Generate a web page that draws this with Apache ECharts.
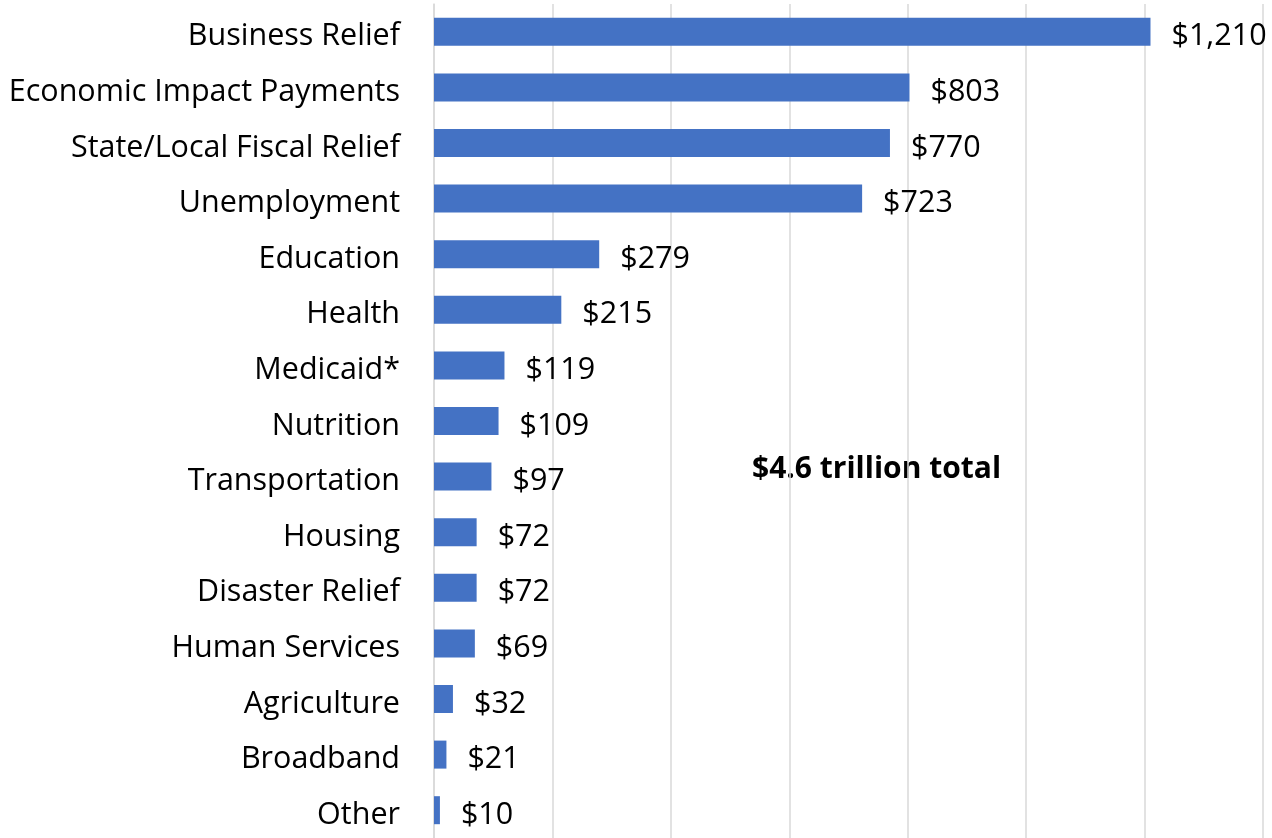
<!DOCTYPE html>
<html>
<head>
<meta charset="utf-8">
<script src="https://cdn.jsdelivr.net/npm/echarts@6/dist/echarts.min.js"></script>
<style>
  html, body { margin: 0; padding: 0; background: #ffffff; }
  #chart { width: 1272px; height: 838px; }
</style>
</head>
<body>
<div id="chart"></div>
<script>
// Spending by category, billions of dollars
const categories = [
  'Business Relief', 'Economic Impact Payments', 'State/Local Fiscal Relief',
  'Unemployment', 'Education', 'Health', 'Medicaid*', 'Nutrition',
  'Transportation', 'Housing', 'Disaster Relief', 'Human Services',
  'Agriculture', 'Broadband', 'Other'
];
const amounts = [1210, 803, 770, 723, 279, 215, 119, 109, 97, 72, 72, 69, 32, 21, 10];
const totalNote = '$4.6 trillion total';

const FONT = '"Open Sans"';
const labelText = {
  color: '#000000',
  fontFamily: FONT,
  fontSize: 30.5,
  padding: [10, 0, 0, 0]
};
const chart = echarts.init(document.getElementById('chart'), null, { renderer: 'canvas' });

chart.setOption({
  backgroundColor: '#ffffff',
  animation: false,
  grid: { left: 434, top: 4, width: 829, height: 837, containLabel: false },
  xAxis: {
    type: 'value',
    min: 0,
    max: 1400,
    interval: 200,
    axisLabel: { show: false },
    axisLine: { show: false },
    axisTick: { show: false },
    splitLine: { show: true, lineStyle: { color: '#d9d9d9', width: 1.5 } }
  },
  yAxis: {
    type: 'category',
    data: categories,
    inverse: true,
    axisLine: { show: true, lineStyle: { color: '#d9d9d9', width: 1.5 } },
    axisTick: { show: false },
    axisLabel: {
      margin: 34,
      formatter: v => '{t|' + v + '}',
      rich: { t: labelText }
    }
  },
  series: [{
    type: 'bar',
    data: amounts,
    barWidth: 28,
    itemStyle: { color: '#4472C4' },
    label: {
      show: true,
      position: 'right',
      distance: 21,
      formatter: p => '{t|$' + p.value.toLocaleString('en-US') + '}',
      rich: { t: labelText }
    }
  }],
  graphic: [{
    type: 'text',
    x: 752,
    y: 469,
    style: {
      text: totalNote,
      fill: '#000000',
      font: 'bold 30px ' + FONT,
      textVerticalAlign: 'middle'
    }
  }]
});
</script>
</body>
</html>
